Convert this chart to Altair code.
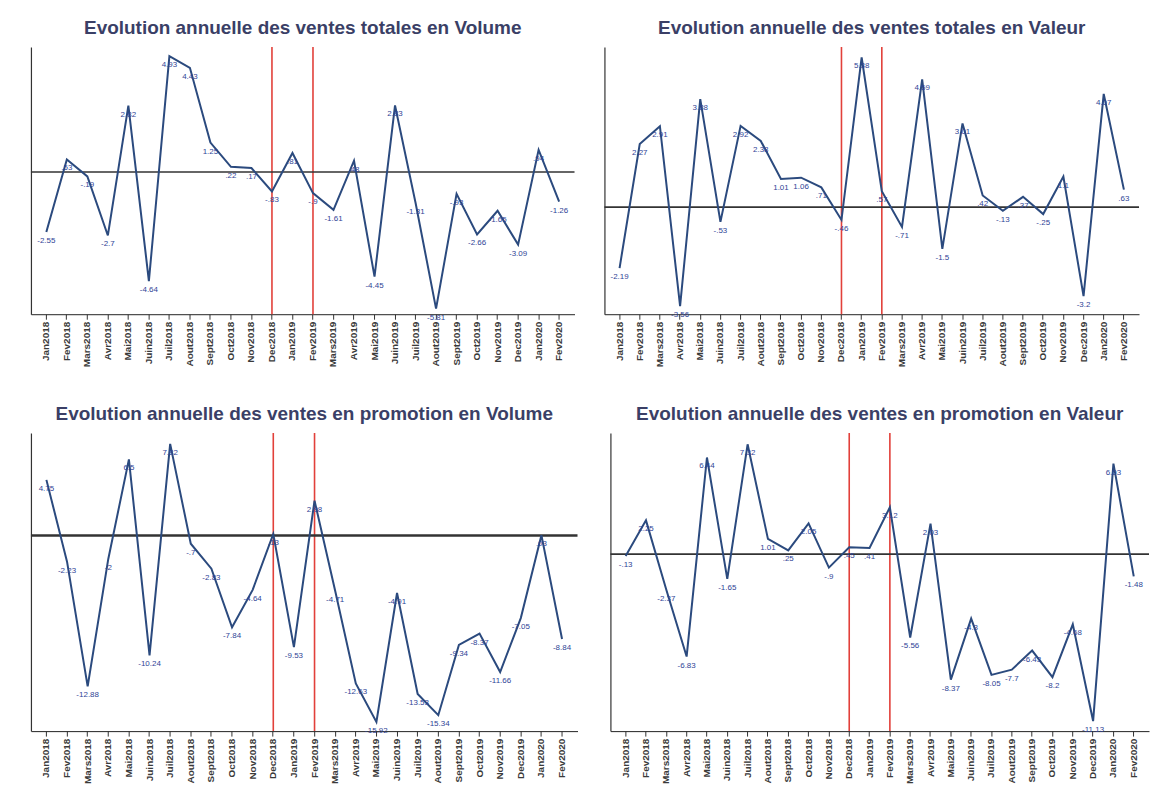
import altair as alt
import pandas as pd

months = ["Jan2018", "Fev2018", "Mars2018", "Avr2018", "Mai2018", "Juin2018", "Juil2018",
          "Aout2018", "Sept2018", "Oct2018", "Nov2018", "Dec2018", "Jan2019", "Fev2019",
          "Mars2019", "Avr2019", "Mai2019", "Juin2019", "Juil2019", "Aout2019", "Sept2019",
          "Oct2019", "Nov2019", "Dec2019", "Jan2020", "Fev2020"]

marker_months = ["Dec2018", "Fev2019"]

vol_tot = [-2.55, .53, -.19, -2.7, 2.82, -4.64, 4.93, 4.43, 1.25, .22, .17, -.83, .81,
           -.9, -1.61, .48, -4.45, 2.83, -1.31, -5.81, -.93, -2.66, -1.65, -3.09, .94, -1.26]
val_tot = [-2.19, 2.27, 2.91, -3.56, 3.88, -.53, 2.92, 2.38, 1.01, 1.06, .71, -.46, 5.38,
           .57, -.71, 4.59, -1.5, 3.01, .42, -.13, .37, -.25, 1.1, -3.2, 4.07, .63]
vol_promo = [4.75, -2.23, -12.88, -2, 6.5, -10.24, 7.82, -.7, -2.83, -7.84, -4.64, .13, -9.53,
             2.98, -4.71, -12.63, -15.92, -4.91, -13.53, -15.34, -9.34, -8.37, -11.66, -7.05,
             .03, -8.84]
val_promo = [-.13, 2.25, -2.37, -6.83, 6.44, -1.65, 7.32, 1.01, .25, 2.05, -.9, .45, .41,
             3.12, -5.56, 2.03, -8.37, -4.3, -8.05, -7.7, -6.43, -8.2, -4.68, -11.13, 6.03, -1.48]

titles = ["Evolution annuelle des ventes totales en Volume",
          "Evolution annuelle des ventes totales en Valeur",
          "Evolution annuelle des ventes en promotion en Volume",
          "Evolution annuelle des ventes en promotion en Valeur"]

FONT = "Liberation Sans"


def fmt(v):
    s = f"{v:g}"
    if abs(v) < 1:
        s = s.replace("0.", ".", 1)
    return s


def panel(title, vals, ydom, w, h, zero_w=1.6):
    df = pd.DataFrame({"mois": months, "v": vals, "lab": [fmt(v) for v in vals]})
    xscale = alt.Scale(domain=months, padding=0.5)
    xaxis = alt.Axis(title=None, labelAngle=-90, labelFontSize=10, labelFont=FONT,
                     labelFontWeight="bold", labelColor="#3a3a3a", domainColor="#222",
                     tickColor="#333", tickSize=5, labelPadding=2, grid=False,
                     labelOverlap=False)
    xs = alt.X("mois:N", sort=months, scale=xscale, axis=xaxis)
    ys = alt.Y("v:Q", scale=alt.Scale(domain=ydom, nice=False, zero=False),
               axis=alt.Axis(title=None, labels=False, ticks=False, grid=False,
                             domainColor="#333", domainWidth=1.2))
    base = alt.Chart(df)
    red = alt.Chart(pd.DataFrame({"mois": marker_months})).mark_rule(
        color="#e2403a", strokeWidth=1.6).encode(
        x=alt.X("mois:N", sort=months, scale=xscale, axis=xaxis))
    zero = alt.Chart(pd.DataFrame({"z": [0]})).mark_rule(
        color="#333333", strokeWidth=zero_w).encode(y=alt.Y("z:Q"))
    line = base.mark_line(color="#2b4a7e", strokeWidth=2).encode(x=xs, y=ys)
    text = base.mark_text(fontSize=8, font=FONT, color="#2f4496", dy=9).encode(
        x=xs, y=ys, text="lab:N")
    return alt.layer(red, zero, line, text).properties(
        width=w, height=h,
        title=alt.Title(title, fontSize=19, font=FONT, color="#3a3f66",
                        fontWeight="bold", offset=8, anchor="middle"))


p1 = panel(titles[0], vol_tot, [-6.05, 5.32], 545, 268)
p2 = panel(titles[1], val_tot, [-3.85, 5.76], 536, 268)
p3 = panel(titles[2], vol_promo, [-16.7, 8.76], 548, 299, zero_w=2.6)
p4 = panel(titles[3], val_promo, [-11.8, 8.08], 540, 299)

chart = alt.vconcat(
    alt.hconcat(p1, p2, spacing=28),
    alt.hconcat(p3, p4, spacing=30),
    spacing=38,
).properties(
    padding={"left": 21, "top": 10, "right": 0, "bottom": 0},
    background="white",
).configure_view(stroke=None)

chart.save("out.html", embed_options={"renderer": "svg", "actions": False})
